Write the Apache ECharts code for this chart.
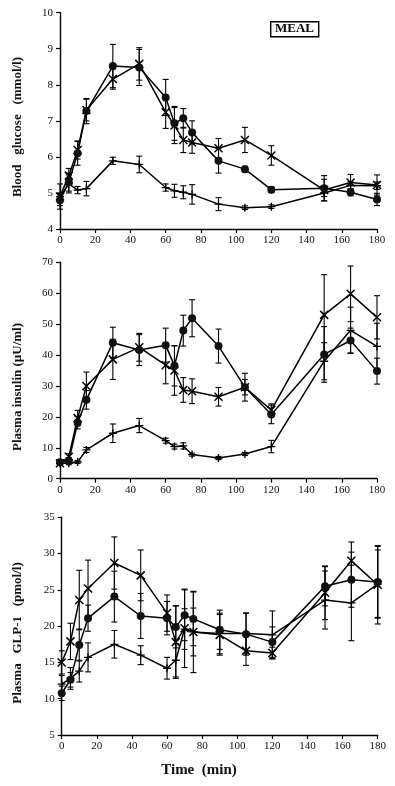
<!DOCTYPE html>
<html><head><meta charset="utf-8">
<script src="https://cdn.jsdelivr.net/npm/echarts@6/dist/echarts.min.js"></script>
<style>html,body{margin:0;padding:0;background:#fff}#c{width:395px;height:786px}</style>
</head><body><div id="c"></div>
<script>
const times = [0,5,10,15,30,45,60,65,70,75,90,105,120,150,165,180];
const xTicks = [0,20,40,60,80,100,120,140,160,180];

const glucoseCircle = [4.8,5.3,6.1,7.27,8.52,8.48,7.65,6.93,7.07,6.68,5.89,5.66,5.09,5.13,5.02,4.82];
const glucoseCross  = [4.9,5.48,6.19,7.3,8.16,8.58,7.24,6.87,6.47,6.4,6.24,6.47,6.04,5.08,5.29,5.22];
const glucosePlus   = [4.9,5.25,5.08,5.12,5.89,5.79,5.15,5.06,5.02,4.96,4.69,4.59,4.62,5.0,5.21,5.2];
const glucoseCircleSE = [0.15,0.25,0.33,0.35,0.6,0.5,0.5,0.47,0.27,0.32,0.34,0.08,0.08,0.35,0.1,0.17];
const glucoseCrossSE  = [0.1,0.2,0.25,0.3,0.28,0.45,0.45,0.5,0.35,0.3,0.27,0.35,0.27,0.3,0.22,0.28];
const glucosePlusSE   = [0.35,0.25,0.1,0.2,0.1,0.23,0.1,0.18,0.18,0.27,0.18,0.05,0.05,0.1,0.1,0.1];

const insulinCircle = [5.3,5.8,18.1,25.5,44,41.6,43.2,36.5,47.9,51.9,42.9,29.6,20.8,40.2,44.7,34.8];
const insulinCross  = [5,7.1,19.6,30,38.6,42.5,36.7,35,28.7,28.3,26.5,29.6,22.2,53,59.8,52.2];
const insulinPlus   = [5,5,5.4,9.3,14.7,17.2,12.3,10.4,10.6,7.8,6.7,8,10.4,38,48,42.8];
const insulinCircleSE = [0.5,1,2,3,5,5,5.5,6.5,5,6,5.5,4.5,3,9,4,4.2];
const insulinCrossSE  = [0.5,1,2.5,4.5,6.5,4.5,6,8,4,4,3,2.5,2,13,9,7];
const insulinPlusSE   = [0.5,0.5,0.5,0.8,3,2.3,0.8,0.8,1,0.5,0.5,0.5,2,6,7.5,7.5];

const glpCircle = [10.75,12.6,17.4,21.1,24.07,21.4,21.1,19.9,21.5,21.0,19.5,18.9,17.8,25.5,26.4,26.1];
const glpCross  = [15.0,17.9,23.6,25.2,28.7,27.0,21.8,17.8,19.7,19.2,18.8,16.6,16.3,24.6,29.0,25.7];
const glpPlus   = [12.0,12.8,13.8,15.7,17.5,16.0,14.2,15.3,19.6,19.2,19.0,19.0,18.8,23.6,23.2,25.8];
const glpCircleSE = [1,1,2.2,1.8,3.5,3.1,2.3,2.9,3.5,3.7,2.7,2.9,2.1,2.7,3.8,4.9];
const glpCrossSE  = [1.6,2.5,4.1,3.9,3.6,3.5,2.5,5,5.4,5.6,2.8,2,0.8,3.7,2.6,5.4];
const glpPlusSE   = [1.2,1.5,1.5,2,1.9,1.3,1.5,2.3,2.8,3.3,2.8,2.8,3.3,4,5.2,4.7];

const yTitles = ['Blood   glucose   (mmol/l)','Plasma insulin (\u00B5U/ml)','Plasma   GLP-1   (pmol/l)'];
const xTitle = 'Time  (min)';

const SERIF = '"Liberation Serif","DejaVu Serif",serif';
const CROSS = 'path://M0,0L10,10M10,0L0,10';
const PLUS = 'path://M5,0L5,10M0,5L10,5';

const grids = [
  {left:60, right:18, top:12.7, height:216.3},
  {left:60, right:18, top:262.3, height:216.4},
  {left:61.7, right:17.3, top:517.3, height:217.7}
];
const yDefs = [
  {min:4,max:10,interval:1},
  {min:0,max:70,interval:10},
  {min:5,max:35,interval:5}
];
const axisLine = {lineStyle:{color:'#000',width:1.4}};
const axisTick = {lineStyle:{color:'#000',width:1.2},length:4};
const axisLabel = {color:'#111',fontFamily:SERIF,fontSize:11};

const xAxis = grids.map((g,i)=>({
  gridIndex:i,type:'value',min:0,max:180,interval:20,
  axisLine, axisTick, axisLabel:Object.assign({margin:6},axisLabel), splitLine:{show:false}
}));
const yAxis = yDefs.map((d,i)=>({
  gridIndex:i,type:'value',min:d.min,max:d.max,interval:d.interval,
  axisLine, axisTick, axisLabel:Object.assign({margin:7},axisLabel), splitLine:{show:false}
}));

function pairs(vals){return times.map((t,i)=>[t,vals[i]]);}
function errData(vals,se){return times.map((t,i)=>[t,vals[i]-se[i],vals[i]+se[i]]);}

function lineSeries(i,vals,kind){
  const base = {type:'line',xAxisIndex:i,yAxisIndex:i,data:pairs(vals),z:3,
    lineStyle:{color:'#000',width:1.5},animation:false};
  if(kind==='circle'){
    base.symbol='circle';base.symbolSize=8;base.itemStyle={color:'#111'};
  } else if(kind==='cross'){
    base.symbol=CROSS;base.symbolSize=8;base.itemStyle={color:'none',borderColor:'#000',borderWidth:1.5};
  } else {
    base.symbol=PLUS;base.symbolSize=8;base.itemStyle={color:'none',borderColor:'#000',borderWidth:1.3};
  }
  return base;
}
function errSeries(i,vals,se){
  return {type:'custom',xAxisIndex:i,yAxisIndex:i,data:errData(vals,se),z:2,animation:false,
    renderItem:function(params,api){
      const x=api.value(0);
      const lo=api.coord([x,api.value(1)]);
      const hi=api.coord([x,api.value(2)]);
      const w=3;
      const st={stroke:'#000',lineWidth:1.1};
      return {type:'group',children:[
        {type:'line',shape:{x1:lo[0],y1:lo[1],x2:hi[0],y2:hi[1]},style:st},
        {type:'line',shape:{x1:lo[0]-w,y1:lo[1],x2:lo[0]+w,y2:lo[1]},style:st},
        {type:'line',shape:{x1:hi[0]-w,y1:hi[1],x2:hi[0]+w,y2:hi[1]},style:st}
      ]};
    }};
}

const panels = [
  [glucoseCircle,glucoseCross,glucosePlus,glucoseCircleSE,glucoseCrossSE,glucosePlusSE],
  [insulinCircle,insulinCross,insulinPlus,insulinCircleSE,insulinCrossSE,insulinPlusSE],
  [glpCircle,glpCross,glpPlus,glpCircleSE,glpCrossSE,glpPlusSE]
];
const series=[];
panels.forEach((p,i)=>{
  series.push(errSeries(i,p[0],p[3]),errSeries(i,p[1],p[4]),errSeries(i,p[2],p[5]));
  series.push(lineSeries(i,p[2],'plus'),lineSeries(i,p[1],'cross'),lineSeries(i,p[0],'circle'));
});

const titleCenters = [[18,127],[18,387],[18,633]];
const graphic = [
  {type:'rect',left:270,top:21,shape:{width:48,height:15},style:{fill:'#fff',stroke:'#000',lineWidth:1.4}},
  {type:'text',left:275,top:22.5,style:{text:'MEAL',font:'bold 13px '+SERIF,fill:'#000'}},
  {type:'text',x:199,y:770,style:{text:xTitle,font:'bold 15px '+SERIF,fill:'#111',align:'center',verticalAlign:'middle'}}
];
yTitles.forEach((t,i)=>{
  graphic.push({type:'text',x:titleCenters[i][0],y:titleCenters[i][1],rotation:Math.PI/2,
    style:{text:t,font:'bold 13px '+SERIF,fill:'#111',align:'center',verticalAlign:'middle'}});
});

const chart = echarts.init(document.getElementById('c'),null,{renderer:'canvas'});
chart.setOption({
  animation:false,
  backgroundColor:'#fff',
  grid:grids,
  xAxis, yAxis, series, graphic
});
</script></body></html>
